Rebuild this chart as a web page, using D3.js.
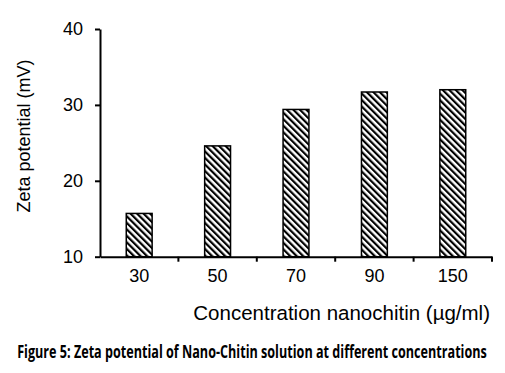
<!DOCTYPE html>
<html><head><meta charset="utf-8">
<script src="https://cdn.jsdelivr.net/npm/d3@7"></script>
<style>body{margin:0;background:#fff}svg{display:block}</style>
</head><body>
<svg id="chart" width="505" height="373"></svg>
<script>
const categories = ["30", "50", "70", "90", "150"];
const values = [15.7, 24.6, 29.4, 31.7, 32.0];
const yTicks = [10, 20, 30, 40];
const yLabel = "Zeta potential (mV)";
const xLabel = "Concentration nanochitin (\u00b5g/ml)";
const caption = "Figure 5: Zeta potential of Nano-Chitin solution at different concentrations";

const svg = d3.select("#chart");
const font = "'Liberation Sans', Arial, sans-serif";

const x = d3.scaleBand().domain(categories).range([100, 492]).padding(0);
const y = d3.scaleLinear().domain([10, 40]).range([256.7, 29]);

const defs = svg.append("defs");
const P = 4.6;
const pat = defs.append("pattern").attr("id", "hatch")
  .attr("patternUnits", "userSpaceOnUse").attr("width", P).attr("height", P)
  .attr("patternTransform", "rotate(-45)");
pat.append("rect").attr("width", P).attr("height", P).attr("fill", "#fff");
pat.append("line").attr("x1", 0).attr("y1", 0).attr("x2", 0).attr("y2", P)
  .attr("stroke", "#000").attr("stroke-width", 4.4);

const bw = x.bandwidth() * 0.33;
svg.append("g").selectAll("rect").data(values).join("rect")
  .attr("x", (d, i) => x(categories[i]) + x.bandwidth() / 2 - bw / 2)
  .attr("y", d => y(d))
  .attr("width", bw)
  .attr("height", d => y(10) - y(d))
  .attr("fill", "url(#hatch)")
  .attr("stroke", "#000").attr("stroke-width", 1.5);

// Y axis
const yAxis = svg.append("g").attr("transform", "translate(100,0)")
  .call(d3.axisLeft(y).tickValues(yTicks).tickSize(5).tickPadding(12).tickSizeOuter(0));
yAxis.select(".domain").attr("stroke-width", 2);
yAxis.selectAll(".tick line").attr("stroke-width", 2);
yAxis.selectAll("text").attr("font-family", font).attr("font-size", 18).attr("fill", "#000");

// X axis
const xAxis = svg.append("g").attr("transform", `translate(0,${y(10)})`)
  .call(d3.axisBottom(x).tickSize(0).tickPadding(13).tickSizeOuter(0));
xAxis.select(".domain").attr("stroke-width", 2);
xAxis.selectAll("text").attr("font-family", font).attr("font-size", 18).attr("fill", "#000");
const edges = categories.slice(1).map(c => x(c)).concat([x.range()[1]]);
xAxis.selectAll("line.edge").data(edges).join("line").attr("class", "edge")
  .attr("x1", d => d).attr("x2", d => d).attr("y1", 0).attr("y2", 5)
  .attr("stroke", "#000").attr("stroke-width", 2);

svg.append("text").attr("transform", "translate(30,136) rotate(-90)")
  .attr("text-anchor", "middle").attr("font-family", font).attr("font-size", 18)
  .text(yLabel);

svg.append("text").attr("x", 490).attr("y", 320).attr("text-anchor", "end")
  .attr("font-family", font).attr("font-size", 20.5).text(xLabel);

const cap = svg.append("text").attr("x", 0).attr("y", 0).attr("text-anchor", "middle")
  .attr("font-family", "'Liberation Sans Narrow', 'Open Sans', sans-serif")
  .attr("font-weight", "bold").attr("font-size", 18)
  .text(caption);
const w = cap.node().getComputedTextLength();
cap.attr("transform", `translate(252,358) scale(${470 / w},1)`);
</script>
</body></html>
